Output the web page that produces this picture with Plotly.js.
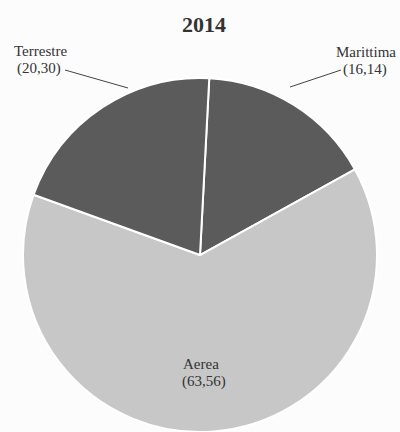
<!DOCTYPE html>
<html><head><meta charset="utf-8">
<script src="https://cdn.plot.ly/plotly-3.0.1.min.js"></script>
<style>body{margin:0;background:#fcfcfc}#c{width:400px;height:432px}</style>
</head><body><div id="c"></div>
<script>
const categories = ['Marittima', 'Aerea', 'Terrestre'];
const values = [16.14, 63.56, 20.30];
const colors = ['#5b5b5b', '#c7c7c7', '#5b5b5b'];
const title = '2014';
const fmt = v => '(' + v.toFixed(2).replace('.', ',') + ')';

const trace = {
  type: 'pie', labels: categories, values: values, sort: false,
  direction: 'clockwise', rotation: 3,
  marker: {colors: colors, line: {color: '#ffffff', width: 2}},
  textinfo: 'none', hoverinfo: 'none', showlegend: false,
  domain: {x: [0.0575, 0.9425], y: [0, 0.8194]}
};
const f = {family: 'Liberation Serif, serif', size: 15, color: '#333'};
const ann = (t, x, y) => ({text: t, xref: 'paper', yref: 'paper', x: x/400, y: 1-y/432,
  xanchor: 'center', yanchor: 'middle', showarrow: false, font: f});
const layout = {
  width: 400, height: 432, margin: {l: 0, r: 0, t: 0, b: 0},
  paper_bgcolor: '#fcfcfc', plot_bgcolor: '#fcfcfc',
  title: {text: '<b>' + title + '</b>', x: 204/400, y: 1-24/432, xanchor: 'center', yanchor: 'middle',
          font: {family: 'Liberation Serif, serif', size: 22, color: '#333'}},
  annotations: [
    ann(categories[2], 40, 51), ann(fmt(values[2]), 39, 68),
    ann(categories[0], 366, 52), ann(fmt(values[0]), 365, 69),
    ann(categories[1], 201, 364), ann(fmt(values[1]), 204, 381)
  ],
  shapes: [
    {type: 'line', xref: 'paper', yref: 'paper', x0: 65/400, y0: 1-70/432, x1: 128/400, y1: 1-88/432, line: {color: '#444', width: 1}},
    {type: 'line', xref: 'paper', yref: 'paper', x0: 341/400, y0: 1-70/432, x1: 290/400, y1: 1-87/432, line: {color: '#444', width: 1}}
  ]
};
Plotly.newPlot('c', [trace], layout, {displayModeBar: false, staticPlot: true});
</script></body></html>
